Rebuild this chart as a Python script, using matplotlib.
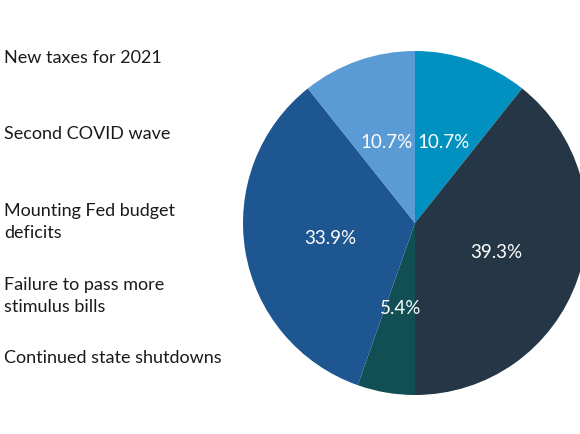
import matplotlib.pyplot as plt

# worries, in legend order (top to bottom)
labels = [
    "New taxes for 2021",
    "Second COVID wave",
    "Mounting Fed budget\ndeficits",
    "Failure to pass more\nstimulus bills",
    "Continued state shutdowns",
]
# slice values, clockwise from 12 o'clock
shares = [10.7, 39.3, 5.4, 33.9, 10.7]
colors = ["#0191c0", "#253746", "#114f55", "#1d5690", "#5b9bd5"]

plt.rcParams["font.family"] = ["Lato", "DejaVu Sans"]

fig = plt.figure(figsize=(5.8, 4.35), dpi=100)
fig.patch.set_facecolor("white")

# pie axes: centre ~ (415, 224) px, radius ~172 px
r = 172
ax = fig.add_axes([(415 - r) / 580, (435 - 224 - r) / 435, 2 * r / 580, 2 * r / 435])
wedges, texts, autotexts = ax.pie(
    shares,
    colors=colors,
    startangle=90,
    counterclock=False,
    autopct="%.1f%%",
    pctdistance=0.5,
    wedgeprops=dict(linewidth=0),
    textprops=dict(color="white", fontsize=13.5),
)
ax.set_aspect("auto")
ax.set_xlim(-1, 1)
ax.set_ylim(-1, 1)
ax.axis("off")

# left-hand list of labels
label_y = [58, 134, 222, 296, 358]
for lab, y in zip(labels, label_y):
    fig.text(4 / 580, 1 - y / 435, lab, fontsize=13, color="#1a1a1a",
             va="center", ha="left", linespacing=1.4)

fig.savefig("out.png", dpi=100)
